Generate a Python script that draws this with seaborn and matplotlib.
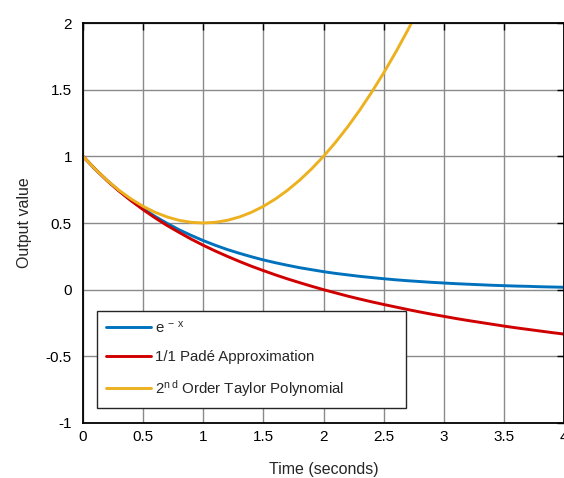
import matplotlib
matplotlib.use("Agg")
import matplotlib.pyplot as plt
import seaborn as sns
import pandas as pd

# Sample times (seconds)
time_s = [0.0, 0.1, 0.2, 0.3, 0.4, 0.5, 0.6, 0.7, 0.8, 0.9,
          1.0, 1.1, 1.2, 1.3, 1.4, 1.5, 1.6, 1.7, 1.8, 1.9,
          2.0, 2.1, 2.2, 2.3, 2.4, 2.5, 2.6, 2.7, 2.8, 2.9,
          3.0, 3.1, 3.2, 3.3, 3.4, 3.5, 3.6, 3.7, 3.8, 3.9, 4.0]

# Exact exponential decay
exp_decay = [1.000, 0.905, 0.819, 0.741, 0.670, 0.607, 0.549, 0.497, 0.449, 0.407,
             0.368, 0.333, 0.301, 0.273, 0.247, 0.223, 0.202, 0.183, 0.165, 0.150,
             0.135, 0.122, 0.111, 0.100, 0.091, 0.082, 0.074, 0.067, 0.061, 0.055,
             0.050, 0.045, 0.041, 0.037, 0.033, 0.030, 0.027, 0.025, 0.022, 0.020, 0.018]

# 1/1 Pade approximation
pade_11 = [1.000, 0.905, 0.818, 0.739, 0.667, 0.600, 0.538, 0.481, 0.429, 0.379,
           0.333, 0.290, 0.250, 0.212, 0.176, 0.143, 0.111, 0.081, 0.053, 0.026,
           0.000, -0.024, -0.048, -0.070, -0.091, -0.111, -0.130, -0.149, -0.167, -0.184,
           -0.200, -0.216, -0.231, -0.245, -0.259, -0.273, -0.286, -0.298, -0.310, -0.322, -0.333]

# 2nd order Taylor polynomial (leaves the plotted range above 2)
taylor_time = time_s[:29]
taylor_2 = [1.000, 0.905, 0.820, 0.745, 0.680, 0.625, 0.580, 0.545, 0.520, 0.505,
            0.500, 0.505, 0.520, 0.545, 0.580, 0.625, 0.680, 0.745, 0.820, 0.905,
            1.000, 1.105, 1.220, 1.345, 1.480, 1.625, 1.780, 1.945, 2.120]

x_ticks = [0, 0.5, 1, 1.5, 2, 2.5, 3, 3.5, 4]
x_tick_labels = ["0", "0.5", "1", "1.5", "2", "2.5", "3", "3.5", "4"]
y_ticks = [-1, -0.5, 0, 0.5, 1, 1.5, 2]
y_tick_labels = ["-1", "-0.5", "0", "0.5", "1", "1.5", "2"]

series_labels = ["e$^{\\,-\\,x}$", "1/1 Padé Approximation", "2$^{n\\,d}$ Order Taylor Polynomial"]
series_colors = ["#0072BD", "#D00000", "#EDB120"]

sns.set_style("white")
plt.rcParams["font.family"] = ["Liberation Sans", "DejaVu Sans"]
plt.rcParams["mathtext.default"] = "regular"

fig = plt.figure(figsize=(5.64, 4.78), dpi=100)
ax = fig.add_axes([83 / 564, 1 - 423 / 478, 481 / 564, 400 / 478])

df_exp = pd.DataFrame({"t": time_s, "v": exp_decay})
df_pade = pd.DataFrame({"t": time_s, "v": pade_11})
df_tay = pd.DataFrame({"t": taylor_time, "v": taylor_2})

for df, lab, col in zip([df_exp, df_pade, df_tay], series_labels, series_colors):
    sns.lineplot(data=df, x="t", y="v", ax=ax, color=col, label=lab, linewidth=2.1)

ax.set_xlim(0, 4)
ax.set_ylim(-1, 2)
ax.set_xticks(x_ticks)
ax.set_xticklabels(x_tick_labels)
ax.set_yticks(y_ticks)
ax.set_yticklabels(y_tick_labels)
ax.grid(True, color="#8a8a8a", linewidth=1.0)
ax.set_axisbelow(True)
ax.tick_params(direction="in", length=5, width=1, colors="black", labelsize=11,
               top=True, right=True)
ax.tick_params(axis="x", pad=5)
ax.tick_params(axis="y", pad=8)
for s in ax.spines.values():
    s.set_visible(True)
    s.set_color("black")
    s.set_linewidth(1.3)

ax.set_xlabel("Time (seconds)", fontsize=11.5, labelpad=13)
ax.set_ylabel("Output value", fontsize=11.5, labelpad=10)

leg = ax.legend(loc="lower left", bbox_to_anchor=(0.029, 0.0375, 0.642, 0.233),
                mode="expand", fontsize=10.8, frameon=True, fancybox=False,
                edgecolor="#262626", framealpha=1, borderaxespad=0,
                handlelength=3.0, handletextpad=0.3, labelspacing=0.95,
                borderpad=0.6)
leg.get_frame().set_linewidth(1.0)

fig.savefig("out.png", dpi=100)
